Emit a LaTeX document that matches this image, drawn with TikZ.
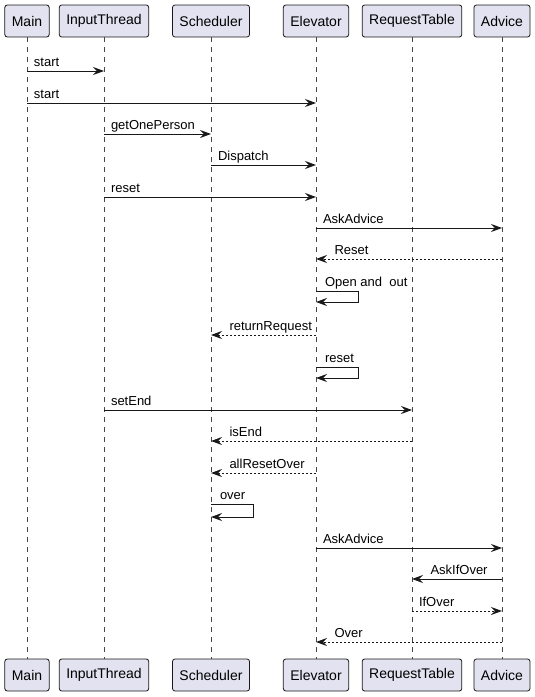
\documentclass[tikz,border=0pt]{standalone}
\usepackage{fontspec}
\setmainfont{Liberation Sans}
\usetikzlibrary{arrows.meta}

\definecolor{partfill}{HTML}{E2E2F0}
\definecolor{ink}{HTML}{181818}

\tikzset{
  part/.style={draw=ink, fill=partfill, rounded corners=2.5pt, line width=0.8pt,
    minimum height=32pt, inner xsep=7pt, font=\fontsize{14}{16}\selectfont},
  life/.style={draw=ink!80, line width=0.6pt, dash pattern=on 5pt off 5pt},
  msg/.style={draw=ink, line width=1pt, -{Stealth[length=11pt,width=8pt,inset=4pt]}},
  ret/.style={msg, dash pattern=on 2pt off 2pt},
  lbl/.style={inner sep=0pt, anchor=base west, font=\fontsize{13}{15}\selectfont}
}

\begin{document}
\begin{tikzpicture}[x=1pt,y=-1pt]
  \useasboundingbox (0,0) rectangle (535,697);
  %participants, top
  \node[part] (mainT) at (27,21) {Main};
  \node[part] (inputT) at (104,21) {InputThread};
  \node[part] (schedT) at (211,21) {Scheduler};
  \node[part] (elevT) at (316,21) {Elevator};
  \node[part] (tableT) at (412,21) {RequestTable};
  \node[part] (adviceT) at (502,21) {Advice};
  %participants, bottom
  \node[part] (mainB) at (27,675) {Main};
  \node[part] (inputB) at (104,675) {InputThread};
  \node[part] (schedB) at (211,675) {Scheduler};
  \node[part] (elevB) at (316,675) {Elevator};
  \node[part] (tableB) at (412,675) {RequestTable};
  \node[part] (adviceB) at (502,675) {Advice};
  %lifelines
  \draw[life] (mainT) -- (mainB);
  \draw[life] (inputT) -- (inputB);
  \draw[life] (schedT) -- (schedB);
  \draw[life] (elevT) -- (elevB);
  \draw[life] (tableT) -- (tableB);
  \draw[life] (adviceT) -- (adviceB);

  %messages
  \draw[msg] (mainT |- 0,71) -- node[lbl, at start, xshift=6.5pt, yshift=5pt] (l1) {start} (inputT |- 0,71);
  \draw[msg] (mainT |- 0,103) -- node[lbl, at start, xshift=6.5pt, yshift=5pt] (l2) {start} (elevT |- 0,103);
  \draw[msg] (inputT |- 0,134) -- node[lbl, at start, xshift=6.5pt, yshift=5pt] (l3) {getOnePerson} (schedT |- 0,134);
  \draw[msg] (schedT |- 0,165) -- node[lbl, at start, xshift=6.5pt, yshift=5pt] (l4) {Dispatch} (elevT |- 0,165);
  \draw[msg] (inputT |- 0,197) -- node[lbl, at start, xshift=6.5pt, yshift=5pt] (l5) {reset} (elevT |- 0,197);
  \draw[msg] (elevT |- 0,228) -- node[lbl, at start, xshift=6.5pt, yshift=5pt] (l6) {AskAdvice} (adviceT |- 0,228);
  \draw[ret] (adviceT |- 0,259) -- node[lbl, at end, xshift=18pt, yshift=5pt] (l7) {Reset} (elevT |- 0,259);
  \draw[msg] (elevT |- 0,291) -- node[lbl, at start, xshift=8.5pt, yshift=5pt] (l8) {Open and\ \ out} ++(42,0) -- ++(0,11) -- (elevT |- 0,302);
  \draw[ret] (elevT |- 0,335) -- node[lbl, at end, xshift=18pt, yshift=5pt] (l9) {returnRequest} (schedT |- 0,335);
  \draw[msg] (elevT |- 0,367) -- node[lbl, at start, xshift=8.5pt, yshift=5pt] (l10) {reset} ++(42,0) -- ++(0,11) -- (elevT |- 0,378);
  \draw[msg] (inputT |- 0,410) -- node[lbl, at start, xshift=6.5pt, yshift=5pt] (l11) {setEnd} (tableT |- 0,410);
  \draw[ret] (tableT |- 0,441) -- node[lbl, at end, xshift=18pt, yshift=5pt] (l12) {isEnd} (schedT |- 0,441);
  \draw[ret] (elevT |- 0,473) -- node[lbl, at end, xshift=18pt, yshift=5pt] (l13) {allResetOver} (schedT |- 0,473);
  \draw[msg] (schedT |- 0,504) -- node[lbl, at start, xshift=8.5pt, yshift=5pt] (l14) {over} ++(42,0) -- ++(0,13) -- (schedT |- 0,517);
  \draw[msg] (elevT |- 0,548) -- node[lbl, at start, xshift=6.5pt, yshift=5pt] (l15) {AskAdvice} (adviceT |- 0,548);
  \draw[msg] (adviceT |- 0,579) -- node[lbl, at end, xshift=18pt, yshift=5pt] (l16) {AskIfOver} (tableT |- 0,579);
  \draw[ret] (tableT |- 0,611) -- node[lbl, at start, xshift=6.5pt, yshift=5pt] (l17) {IfOver} (adviceT |- 0,611);
  \draw[ret] (adviceT |- 0,642) -- node[lbl, at end, xshift=18pt, yshift=5pt] (l18) {Over} (elevT |- 0,642);
\end{tikzpicture}
\end{document}
